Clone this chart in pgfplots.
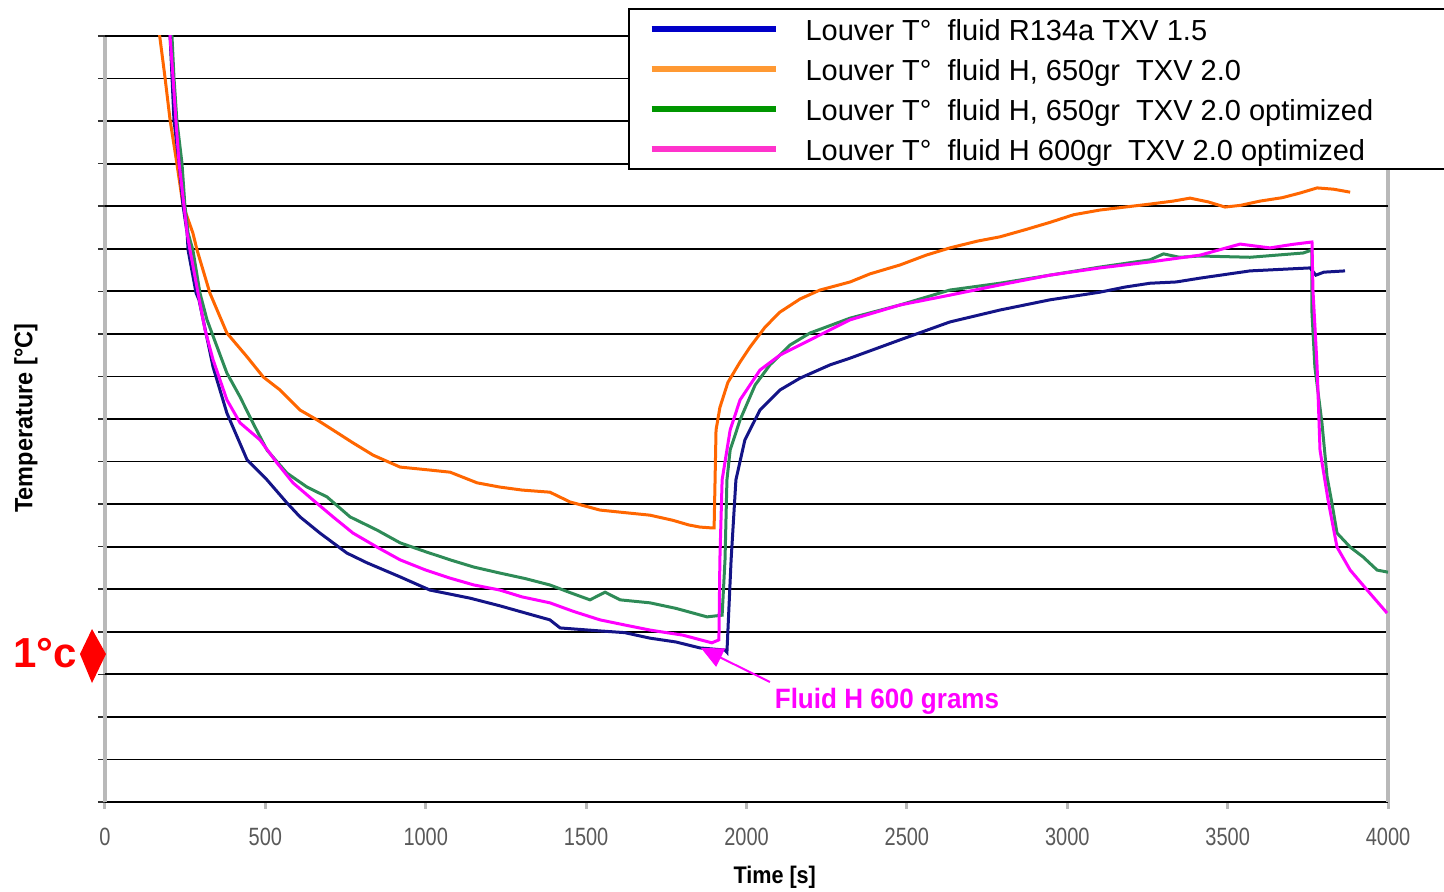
\documentclass[border=0pt]{standalone}
\usepackage{fontspec}
\setmainfont{Liberation Sans}
\newfontfamily\tickfont[FakeStretch=0.8]{Liberation Sans}
\newfontfamily\labfont[FakeStretch=0.9]{Liberation Sans}
\newfontfamily\ylabfont[FakeStretch=0.94]{Liberation Sans}
\newfontfamily\annfont[FakeStretch=0.93]{Liberation Sans}
\usepackage{pgfplots}
\pgfplotsset{compat=1.18}
\usetikzlibrary{arrows.meta}
\definecolor{cblue}{RGB}{20,20,135}
\definecolor{corange}{RGB}{255,102,0}
\definecolor{cgreen}{RGB}{46,139,87}
\definecolor{cmag}{RGB}{255,0,255}
\definecolor{lblue}{RGB}{0,0,200}
\definecolor{lorange}{RGB}{255,153,51}
\definecolor{lgreen}{RGB}{0,150,0}
\definecolor{lmag}{RGB}{255,51,204}
\definecolor{axgray}{RGB}{185,185,185}
\newcommand{\legtxt}[1]{\hspace*{11.5pt}\makebox[330pt][l]{#1}}
\begin{document}
\begin{tikzpicture}
\begin{axis}[
  name=ax,
  scale only axis,
  width=641.5pt, height=383pt,
  xmin=0, xmax=4000, ymin=0, ymax=18,
  axis x line=bottom,
  axis y line=box,
  x axis line style={black, line width=1pt, -},
  y axis line style={axgray, line width=2pt, -},
  xtick={0,500,...,4000},
  ytick={0,1,2,4,5,6,7,8,9,10,11,12,13,15,16,17},
  extra y ticks={3,14,18},
  extra y tick style={grid style={black!45, line width=0.6pt}},
  yticklabels={},
  extra y tick labels={},
  ytick pos=left,
  tick align=outside,
  major tick length=3.5pt,
  xtick style={axgray, line width=1.5pt},
  ytick style={black!80, line width=0.8pt},
  ymajorgrids,
  major grid style={black, line width=0.9pt},
  /pgf/number format/1000 sep={},
  /pgf/number format/assume math mode=true,
  xticklabel style={font=\tickfont\fontsize{12.5}{14}\selectfont, text=black!65, anchor=north, inner sep=0pt},
  xticklabel shift=9.5pt,
  xlabel={Time [s]},
  xlabel style={font=\labfont\bfseries\fontsize{12}{14}\selectfont, at={(axis description cs:0.522,-0.098)}, anchor=center},
  ylabel={Temperature [°C]},
  ylabel style={font=\ylabfont\bfseries\fontsize{12.5}{14}\selectfont, at={(axis description cs:-0.0616,0.501)}, anchor=center},
  clip mode=individual,
  legend image code/.code={\draw[#1] (0pt,0pt) -- (62pt,0pt);},
  legend cell align=left,
  legend style={at={(axis description cs:0.4076,1.0366)}, anchor=north west,
    draw=black, line width=1pt, fill=white,
    inner xsep=10pt, inner ysep=2pt, row sep=4pt,
    font=\fontsize{14.5}{16}\selectfont,
    nodes={inner ysep=0pt, text height=14pt, text depth=2pt}},
]
\addlegendimage{lblue, line width=2.8pt}
\addlegendentry{\legtxt{Louver T°\ \ fluid R134a TXV 1.5}}
\addlegendimage{lorange, line width=2.8pt}
\addlegendentry{\legtxt{Louver T°\ \ fluid H, 650gr\ \ TXV 2.0}}
\addlegendimage{lgreen, line width=2.8pt}
\addlegendentry{\legtxt{Louver T°\ \ fluid H, 650gr\ \ TXV 2.0 optimized}}
\addlegendimage{lmag, line width=2.8pt}
\addlegendentry{\legtxt{Louver T°\ \ fluid H 600gr\ \ TXV 2.0 optimized}}

% orange: fluid H 650gr TXV 2.0
\addplot[corange, line width=1.5pt, forget plot] coordinates {
(160,18.7) (171,17.97) (187,17.03) (203,16.02) (224,15.01) (243,14.03) (274,13.37)
(287,12.97) (327,11.96) (380,11.02) (443,10.46) (493,9.99) (546,9.68) (608,9.21)
(661,8.98) (711,8.74) (773,8.44) (836,8.15) (920,7.87) (1013,7.80) (1076,7.75)
(1160,7.50) (1231,7.40) (1300,7.33) (1387,7.28) (1450,7.05) (1543,6.86) (1620,6.80)
(1699,6.74) (1770,6.62) (1820,6.51) (1855,6.46) (1892,6.44) (1899,6.44) (1902,7.57)
(1905,8.74) (1917,9.27) (1942,9.86) (1980,10.34) (2011,10.69) (2058,11.16) (2104,11.51)
(2167,11.82) (2229,12.03) (2323,12.22) (2385,12.41) (2479,12.62) (2560,12.85) (2634,13.02)
(2720,13.18) (2790,13.28) (2870,13.45) (2946,13.62) (3020,13.80) (3102,13.91) (3180,13.98)
(3258,14.05) (3330,14.12) (3383,14.19) (3440,14.10) (3492,13.98) (3540,14.02) (3601,14.12)
(3670,14.20) (3726,14.31) (3779,14.43) (3830,14.40) (3882,14.33)
};
% green: fluid H 650gr TXV 2.0 optimized
\addplot[cgreen, line width=1.5pt, forget plot] coordinates {
(205,18.7) (209,17.97) (215,17.03) (224,16.02) (240,15.01) (249,14.03) (259,13.37)
(274,12.97) (296,11.96) (318,11.33) (380,10.08) (421,9.52) (461,8.91) (505,8.27)
(567,7.73) (630,7.40) (692,7.17) (764,6.70) (848,6.39) (920,6.09) (1000,5.88)
(1076,5.69) (1150,5.52) (1231,5.38) (1310,5.25) (1387,5.10) (1450,4.92) (1512,4.75)
(1559,4.93) (1606,4.75) (1699,4.68) (1780,4.55) (1877,4.35) (1924,4.39) (1933,5.69)
(1939,7.57) (1949,8.27) (1980,8.98) (2027,9.80) (2073,10.27) (2136,10.74) (2198,11.02)
(2323,11.37) (2479,11.68) (2634,12.03) (2790,12.19) (2946,12.38) (3102,12.57) (3258,12.74)
(3300,12.88) (3350,12.80) (3414,12.83) (3570,12.80) (3735,12.90) (3763,12.97) (3763,11.49)
(3772,10.22) (3794,8.91) (3810,7.64) (3825,7.03) (3841,6.32) (3882,5.99) (3922,5.76)
(3966,5.45) (4000,5.40)
};
% blue: R134a TXV 1.5
\addplot[cblue, line width=1.5pt, forget plot] coordinates {
(196,18.7) (203,17.97) (209,17.03) (215,16.02) (231,15.01) (243,14.03) (256,13.37)
(259,12.97) (284,11.96) (293,11.80) (337,10.22) (380,9.14) (443,8.04) (505,7.57)
(567,7.03) (608,6.70) (670,6.32) (754,5.85) (817,5.62) (920,5.29) (1013,4.98)
(1138,4.79) (1231,4.61) (1330,4.40) (1387,4.28) (1419,4.09) (1543,4.02) (1620,3.98)
(1699,3.85) (1780,3.76) (1855,3.62) (1933,3.57) (1939,3.52) (1952,5.69) (1967,7.57)
(1995,8.51) (2042,9.21) (2104,9.68) (2167,9.96) (2260,10.27) (2323,10.43) (2479,10.86)
(2634,11.28) (2790,11.56) (2946,11.80) (3102,11.98) (3180,12.10) (3258,12.19) (3340,12.22)
(3414,12.31) (3570,12.48) (3757,12.55) (3775,12.38) (3800,12.45) (3866,12.48)
};
% magenta: fluid H 600gr TXV 2.0 optimized
\addplot[cmag, line width=1.5pt, forget plot] coordinates {
(199,18.7) (203,17.97) (212,17.03) (221,16.02) (231,15.01) (246,14.03) (256,13.37)
(265,12.97) (290,11.96) (312,11.09) (337,10.39) (380,9.45) (421,8.91) (483,8.51)
(536,7.97) (586,7.50) (648,7.10) (711,6.70) (773,6.32) (848,5.99) (920,5.69)
(1000,5.45) (1076,5.26) (1150,5.10) (1231,4.98) (1300,4.82) (1387,4.68) (1460,4.48)
(1543,4.28) (1620,4.16) (1699,4.04) (1802,3.92) (1892,3.74) (1914,3.81) (1917,5.69)
(1924,7.57) (1949,8.74) (1980,9.45) (2042,10.15) (2104,10.50) (2167,10.74) (2323,11.33)
(2479,11.68) (2634,11.91) (2790,12.15) (2946,12.38) (3102,12.55) (3258,12.69) (3414,12.85)
(3539,13.11) (3632,13.02) (3700,13.10) (3763,13.16) (3766,12.03) (3779,10.22) (3788,8.27)
(3813,7.10) (3841,5.99) (3882,5.45) (3935,4.98) (3997,4.44)
};

% annotations
\draw[cmag, line width=1pt, -{Triangle[length=11pt,width=10pt]}] (axis cs:2073,2.82) -- (axis cs:1858,3.62);
\node[font=\annfont\bfseries\fontsize{14}{16}\selectfont, text=cmag, anchor=center] at (axis cs:2438,2.37) {Fluid H 600 grams};
\node[anchor=base west, text=red, font=\bfseries\fontsize{21}{24}\selectfont, inner sep=0pt] at (axis cs:-287,3.17) {1°c};
\fill[red] (axis cs:-40.5,4.065) -- (axis cs:3.1,3.477) -- (axis cs:-40.5,2.796) -- (axis cs:-78,3.477) -- cycle;
\end{axis}
\pgfresetboundingbox
\path[use as bounding box] ([shift={(-52.5pt,-45pt)}]ax.south west) rectangle ([shift={(669.5pt,401pt)}]ax.south west);
\end{tikzpicture}
\end{document}
